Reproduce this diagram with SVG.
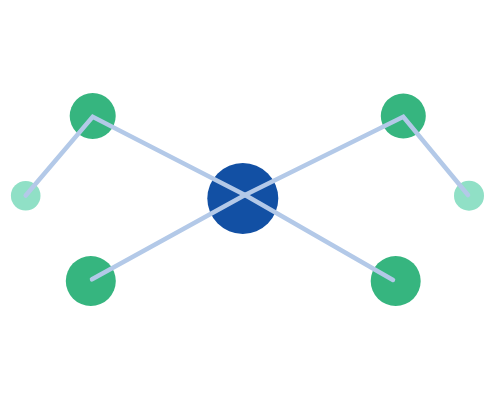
<svg xmlns="http://www.w3.org/2000/svg" width="494" height="400" viewBox="0 0 494 400">
<style>
.e{stroke:#b3c9e8;stroke-width:4.5;stroke-linecap:round;fill:none}
.g{fill:#36b57f}
.l{fill:#90e0c6}
.b{fill:#1250a4}
</style>
<rect width="494" height="400" fill="#fff"/>
<g id="n-center"><circle class="b" cx="242.8" cy="198.5" r="35.5"/></g>
<g id="n-tl"><circle class="g" cx="92.7" cy="116" r="23"/></g>
<g id="n-l"><circle class="l" cx="25.7" cy="195.7" r="14.8"/></g>
<g id="n-bl"><circle class="g" cx="90.8" cy="281" r="25"/></g>
<g id="n-tr"><circle class="g" cx="403.3" cy="116" r="22.5"/></g>
<g id="n-r"><circle class="l" cx="469" cy="195.7" r="15"/></g>
<g id="n-br"><circle class="g" cx="395.7" cy="281" r="25"/></g>
<g id="edges">
<path class="e" d="M25.7 195.5 L92.7 116.7 L245 195"/>
<path class="e" d="M92 279.3 L245 195"/>
<path class="e" d="M468 195 L403.3 116.7 L245 195"/>
<path class="e" d="M393 280 L245 195"/>
</g>
</svg>
